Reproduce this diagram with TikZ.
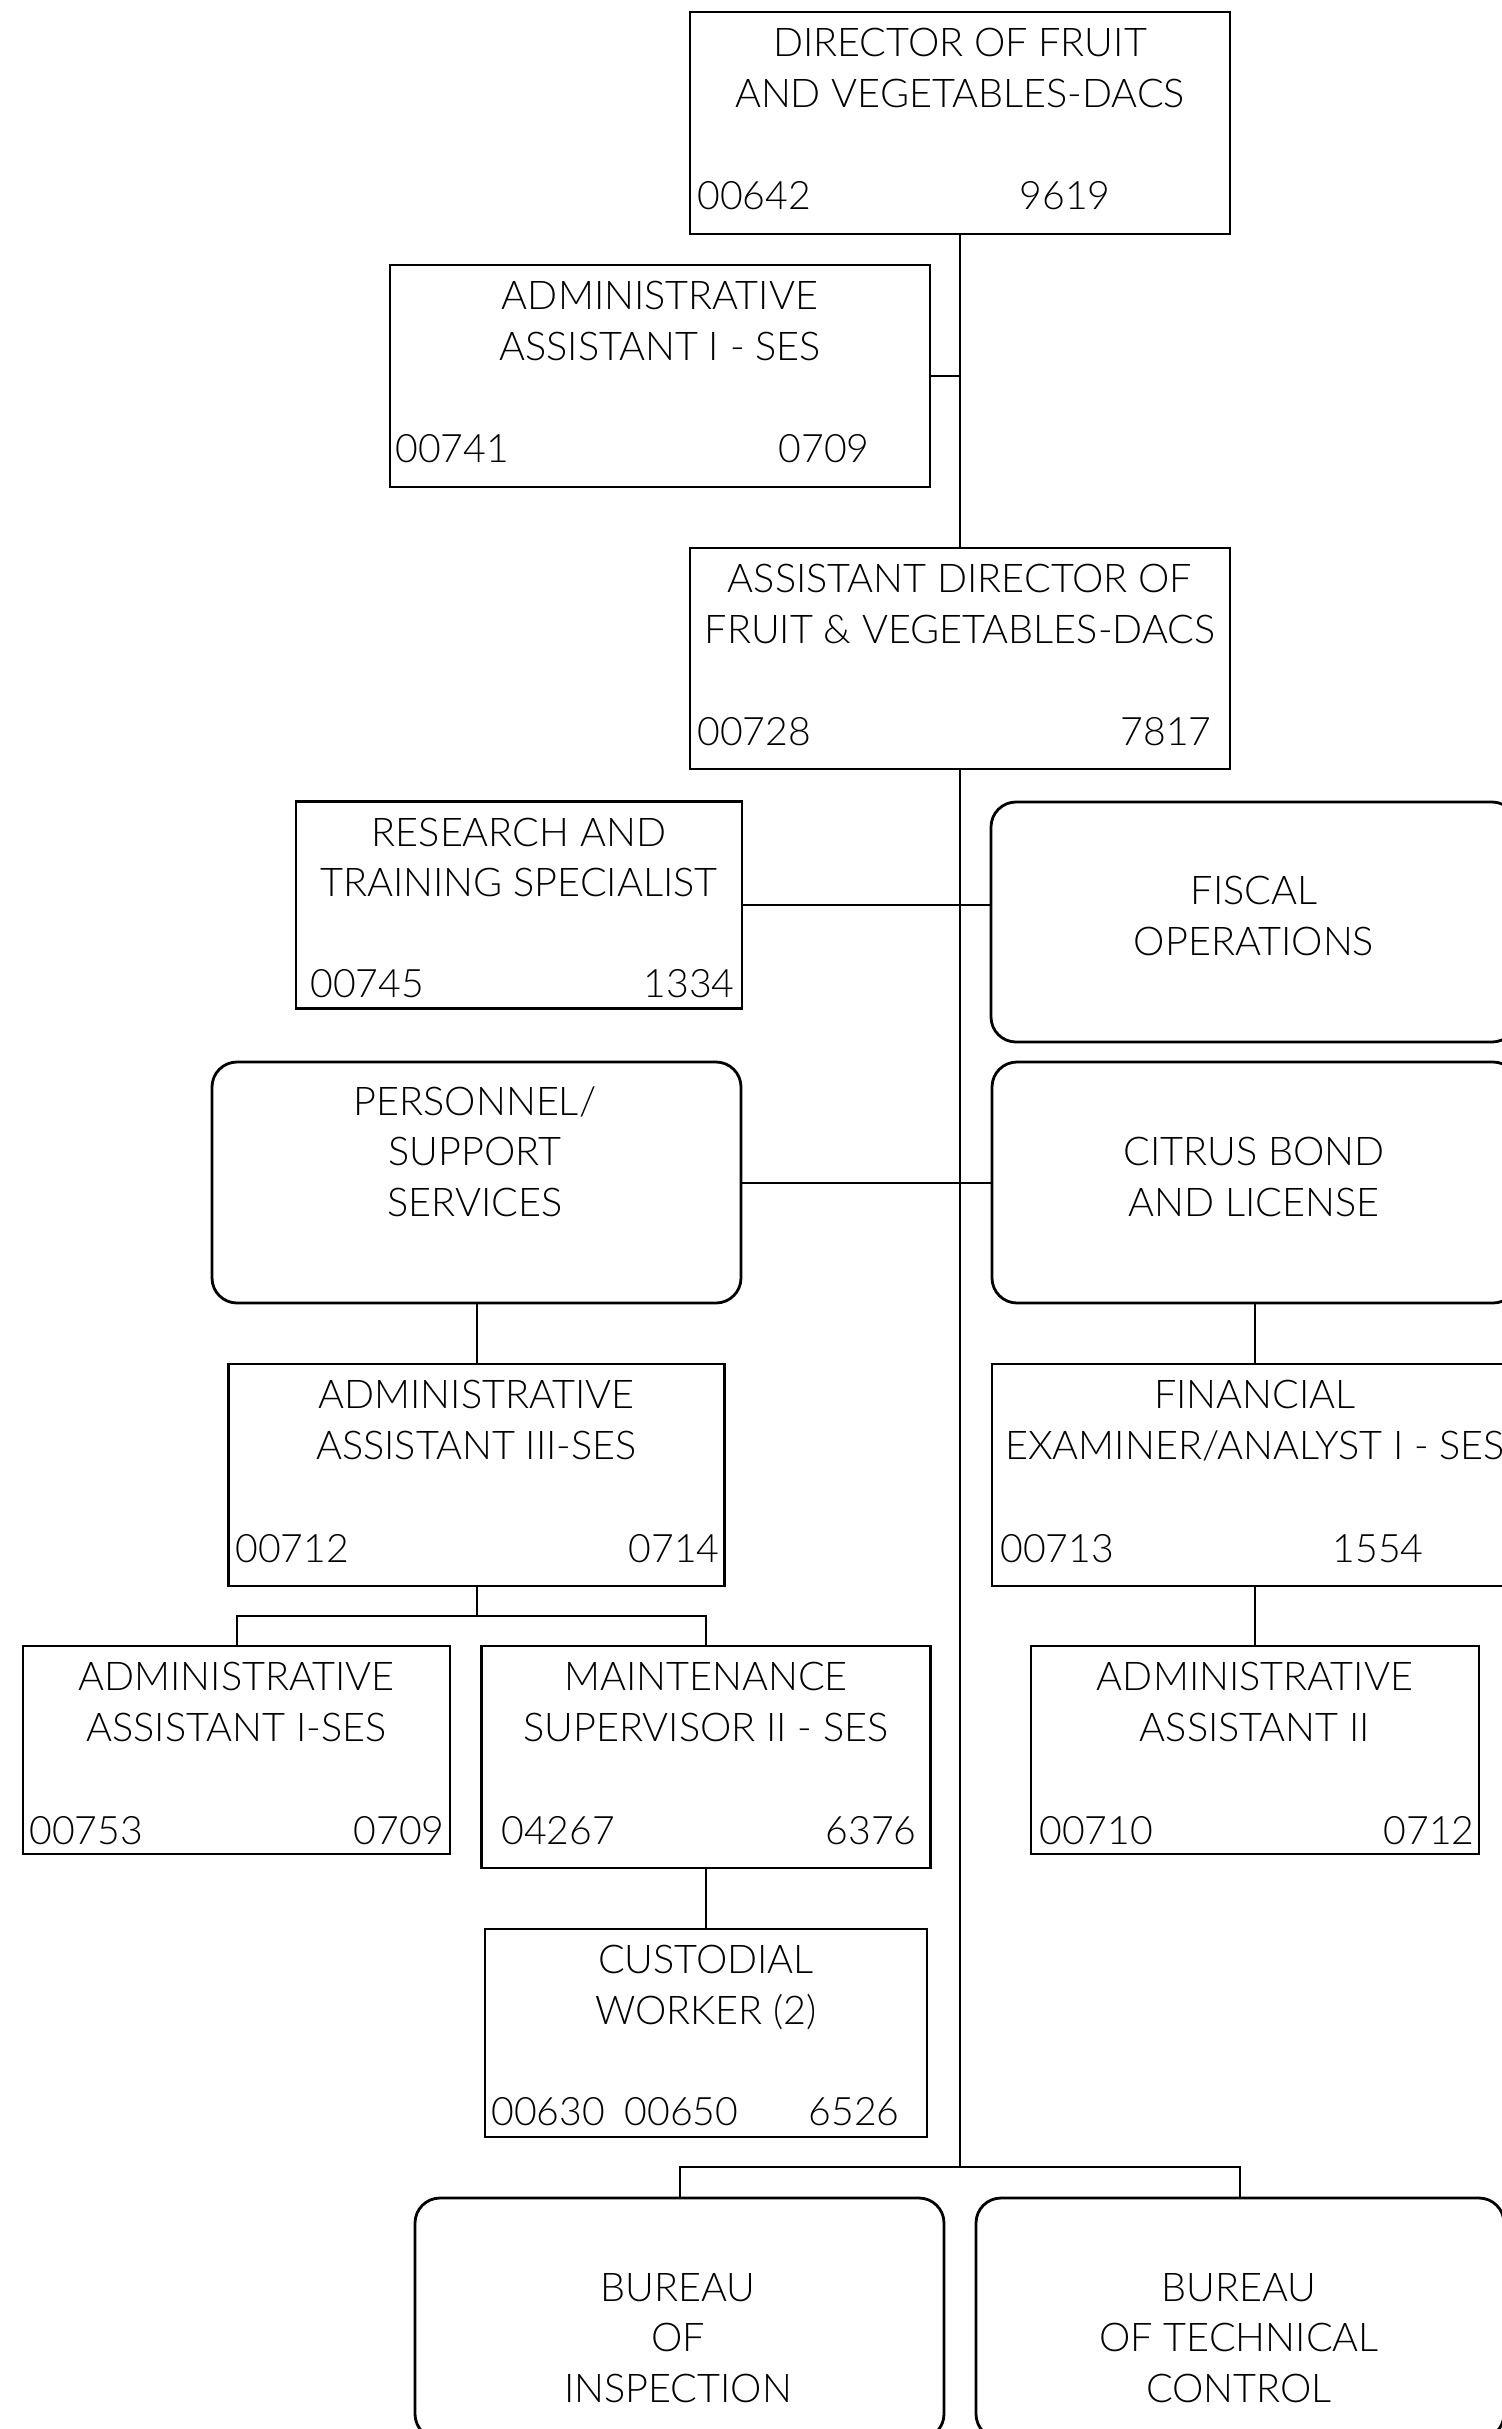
\documentclass[tikz,border=0pt]{standalone}
\usepackage{fontspec}
\setmainfont{Lato Light}
\usetikzlibrary{positioning}

\begin{document}
\begin{tikzpicture}[x=0.5pt, y=-0.5pt,
    box/.style={draw, line width=1.4pt, inner sep=0pt},
    unit/.style={box, rounded corners=12.5pt},
    title/.style={align=center, anchor=base, inner sep=0pt,
      font=\fontsize{19.8}{25.25}\selectfont},
    num/.style={inner sep=0pt, font=\fontsize{19.6}{25}\selectfont},
    link/.style={line width=1pt}
  ]
  \useasboundingbox (0,0) rectangle (1502,2429);

  % positions and their boxes
  \node[box, minimum width=270pt, minimum height=111pt] (director) at (960,123) {};
  \node[box, minimum width=270pt, minimum height=111pt] (adminA) at (660,376) {};
  \node[box, minimum width=270pt, minimum height=110.5pt] (asstdir) at (960,658.5) {};
  \node[box, minimum width=223pt, minimum height=103.5pt] (research) at (519,905) {};
  \node[unit, minimum width=263pt, minimum height=120pt] (fiscal) at (1254,922) {};
  \node[unit, minimum width=264.5pt, minimum height=120.5pt] (personnel) at (476.5,1182.5) {};
  \node[unit, minimum width=263pt, minimum height=120.5pt] (citrus) at (1255,1182.5) {};
  \node[box, minimum width=248pt, minimum height=111pt] (admin3) at (476.5,1475) {};
  \node[box, minimum width=263pt, minimum height=111pt] (financial) at (1255,1475) {};
  \node[box, minimum width=213.5pt, minimum height=104pt] (adminB) at (236.5,1750) {};
  \node[box, minimum width=224.5pt, minimum height=111pt] (maint) at (706,1757) {};
  \node[box, minimum width=224pt, minimum height=104pt] (adminII) at (1255,1750) {};
  \node[box, minimum width=221pt, minimum height=104pt] (custodial) at (706,2033) {};
  \node[unit, minimum width=264.5pt, minimum height=120.5pt] (inspection) at (679.5,2318.5) {};
  \node[unit, minimum width=264pt, minimum height=120.5pt] (technical) at (1240,2318.5) {};

  % titles (anchored on the baseline of their last line)
  \node[title] (director-t) at ([yshift=-48.25pt]director.north) {DIRECTOR OF FRUIT\\AND VEGETABLES-DACS};
  \node[title] (adminA-t) at ([yshift=-48.25pt]adminA.north) {ADMINISTRATIVE\\ASSISTANT I - SES};
  \node[title] (asstdir-t) at ([yshift=-48.25pt]asstdir.north) {ASSISTANT DIRECTOR OF\\FRUIT \& VEGETABLES-DACS};
  \node[title] (research-t) at ([yshift=-48.25pt]research.north) {RESEARCH AND\\TRAINING SPECIALIST};
  \node[title] (fiscal-t) at (1254,955) {FISCAL\\OPERATIONS};
  \node[title] (personnel-t) at (475,1216) {PERSONNEL/\\SUPPORT\\SERVICES};
  \node[title] (citrus-t) at (1254,1216) {CITRUS BOND\\AND LICENSE};
  \node[title] (admin3-t) at ([yshift=-48.25pt]admin3.north) {ADMINISTRATIVE\\ASSISTANT III-SES};
  \node[title] (financial-t) at ([yshift=-48.25pt]financial.north) {FINANCIAL\\EXAMINER/ANALYST I - SES};
  \node[title] (adminB-t) at ([yshift=-48.25pt]adminB.north) {ADMINISTRATIVE\\ASSISTANT I-SES};
  \node[title] (maint-t) at ([yshift=-48.25pt]maint.north) {MAINTENANCE\\SUPERVISOR II - SES};
  \node[title] (adminII-t) at ([yshift=-48.25pt]adminII.north) {ADMINISTRATIVE\\ASSISTANT II};
  \node[title] (custodial-t) at ([yshift=-48.25pt]custodial.north) {CUSTODIAL\\WORKER (2)};
  \node[title] (inspection-t) at (678,2402) {BUREAU\\OF\\INSPECTION};
  \node[title] (technical-t) at (1239,2402) {BUREAU\\OF TECHNICAL\\CONTROL};

  % position and class numbers
  \node[num, anchor=base west] (director-n) at (697,210) {00642};
  \node[num, anchor=base east] (director-c) at (1111,210) {9619};
  \node[num, anchor=base west] (adminA-n) at (395,462) {00741};
  \node[num, anchor=base east] (adminA-c) at (870,462) {0709};
  \node[num, anchor=base west] (asstdir-n) at (697,745) {00728};
  \node[num, anchor=base east] (asstdir-c) at (1212,745) {7817};
  \node[num, anchor=base west] (research-n) at (310,997) {00745};
  \node[num, anchor=base east] (research-c) at (735,997) {1334};
  \node[num, anchor=base west] (admin3-n) at (235,1562) {00712};
  \node[num, anchor=base east] (admin3-c) at (720,1562) {0714};
  \node[num, anchor=base west] (financial-n) at (1000,1562) {00713};
  \node[num, anchor=base east] (financial-c) at (1424,1562) {1554};
  \node[num, anchor=base west] (adminB-n) at (29,1844) {00753};
  \node[num, anchor=base east] (adminB-c) at (445,1844) {0709};
  \node[num, anchor=base west] (maint-n) at (501,1844) {04267};
  \node[num, anchor=base east] (maint-c) at (917,1844) {6376};
  \node[num, anchor=base west] (adminII-n) at (1039,1844) {00710};
  \node[num, anchor=base east] (adminII-c) at (1475,1844) {0712};
  \node[num, anchor=base west] (custodial-n) at (491,2125) {00630\enspace 00650};
  \node[num, anchor=base east] (custodial-c) at (900,2125) {6526};

  % reporting lines
  \coordinate (fork) at (960,2167);
  \coordinate (admin3-bus) at (476.5,1616);
  \draw[link] (director.south) -- (asstdir.north);
  \draw[link] (asstdir.south) -- (fork);
  \draw[link] (adminA.east) -- (adminA.east -| director.south);
  \draw[link] (research.east) -- (research.east -| fiscal.west);
  \draw[link] (personnel.east) -- (citrus.west);
  \draw[link] (personnel.south) -- (admin3.north);
  \draw[link] (admin3.south) -- (admin3-bus);
  \draw[link] (adminB.north) |- (admin3-bus) -| (maint.north);
  \draw[link] (maint.south) -- (custodial.north);
  \draw[link] (citrus.south) -- (financial.north);
  \draw[link] (financial.south) -- (adminII.north);
  \draw[link] (inspection.north) |- (fork) -| (technical.north);
\end{tikzpicture}
\end{document}
